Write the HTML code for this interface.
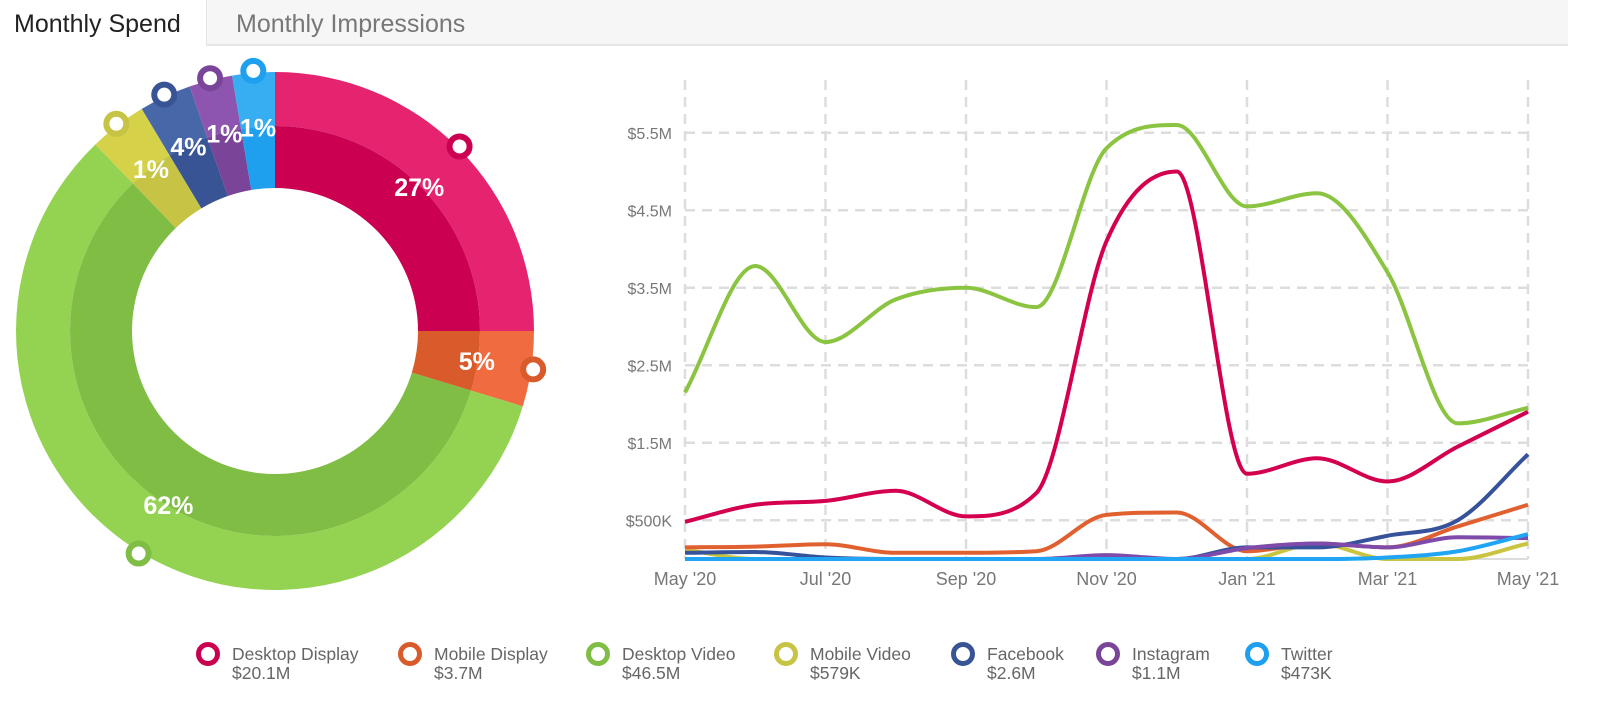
<!DOCTYPE html>
<html><head><meta charset="utf-8"><style>
html,body{margin:0;padding:0;background:#fff;width:1600px;height:716px;overflow:hidden;font-family:"Liberation Sans",sans-serif}
#tabs{position:absolute;left:0;top:0;width:1568px;height:48px}
.tab{position:absolute;top:0;height:48px;line-height:48px;font-size:25px}
#t1{left:0;width:206px;background:#fff;color:#222;padding-left:14px;box-sizing:border-box;white-space:nowrap}
#t2{left:206px;width:1362px;background:#f6f6f6;border-left:1px solid #e4e4e4;border-bottom:2px solid #e6e6e6;height:46px;color:#777;padding-left:29px;box-sizing:border-box;white-space:nowrap}
svg{position:absolute;left:0;top:0}
</style></head><body>
<div id="tabs">
<div class="tab" id="t1">Monthly Spend</div>
<div class="tab" id="t2">Monthly Impressions</div>
</div>
<svg id="chart" width="1600" height="716"></svg>
<script>
const seriesNames=["Desktop Display","Mobile Display","Desktop Video","Mobile Video","Facebook","Instagram","Twitter"];
const seriesTotals=["$20.1M","$3.7M","$46.5M","$579K","$2.6M","$1.1M","$473K"];
const donutShares=[25,4.7,58.1,3.6,3.25,2.7,2.65];
const donutLabels=["27%","5%","62%","1%","4%","1%","1%"];
const months=["May '20","Jun '20","Jul '20","Aug '20","Sep '20","Oct '20","Nov '20","Dec '20","Jan '21","Feb '21","Mar '21","Apr '21","May '21"];
const xTickLabels=["May '20","Jul '20","Sep '20","Nov '20","Jan '21","Mar '21","May '21"];
const yTicks=[0.5,1.5,2.5,3.5,4.5,5.5];
const yTickLabels=["$500K","$1.5M","$2.5M","$3.5M","$4.5M","$5.5M"];
const desktopDisplay=[0.48,0.7,0.75,0.88,0.55,0.85,4.1,5.0,1.1,1.3,1.0,1.45,1.9];
const mobileDisplay=[0.15,0.16,0.19,0.08,0.08,0.1,0.57,0.6,0.1,0.2,0.15,0.42,0.7];
const desktopVideo=[2.15,3.78,2.8,3.35,3.5,3.25,5.3,5.6,4.55,4.72,3.7,1.75,1.95];
const mobileVideo=[0.12,0,0,0,0,0,0,0,0,0.2,0,0,0.2];
const facebook=[0.08,0.09,0.02,0,0,0,0,0,0.15,0.15,0.3,0.5,1.35];
const instagram=[0,0,0,0,0,0,0.05,0,0.14,0.2,0.15,0.28,0.27];
const twitter=[0,0,0,0,0,0,0,0,0,0,0.02,0.1,0.32];
const seriesData=[desktopDisplay,mobileDisplay,desktopVideo,mobileVideo,facebook,instagram,twitter];

const lineColors=["#d4004f","#e0612f","#8ac440","#c9c540","#36529a","#7f4bab","#1fa5f3"];
const outerColors=["#e5236f","#f06c40","#94d352","#d5d149","#4767a8","#8e55b0","#37aef2"];
const innerColors=["#cc0050","#d95b2b","#80bd45","#c6c345","#385494","#7a4598","#1ea0ef"];
const NS="http://www.w3.org/2000/svg";
const svg=document.getElementById('chart');
function mk(t,a,p){const e=document.createElementNS(NS,t);for(const k in a)e.setAttribute(k,a[k]);(p||svg).appendChild(e);return e;}

// donut
const cx=275,cy=331,R=259,Rm=205,Ri=143;
function pt(r,a){const t=a*Math.PI/180;return [cx+r*Math.sin(t),cy-r*Math.cos(t)];}
function arc(r1,r2,a0,a1){const L=(a1-a0)>180?1:0;const p0=pt(r2,a0),p1=pt(r2,a1),p2=pt(r1,a1),p3=pt(r1,a0);
return `M${p0}A${r2},${r2} 0 ${L} 1 ${p1}L${p2}A${r1},${r1} 0 ${L} 0 ${p3}Z`;}
const tot=donutShares.reduce((a,b)=>a+b,0);
let acc=0;const mids=[];
donutShares.forEach((s,i)=>{const a0=acc/tot*360,a1=(acc+s)/tot*360;acc+=s;
 const g=mk('g',{});
 
 
 mk('path',{d:arc(Rm,R,a0,a1),fill:outerColors[i]},g);
 mk('path',{d:arc(Ri,Rm,a0,a1),fill:innerColors[i]},g);
 mids.push((a0+a1)/2);});
mids.forEach((m,i)=>{const [x,y]=pt(204,m);
 const t=mk('text',{x:x,y:y+9,'text-anchor':'middle','font-size':25,'font-weight':'bold',fill:'#fff'});
 t.textContent=donutLabels[i];
 
 
 const [mx,my]=pt(261,m);
 const c=mk('circle',{cx:mx,cy:my,r:10,fill:'#fff',stroke:innerColors[i],'stroke-width':6});
 
 });

// line chart
const x0=685,x1=1528,yTop=80,yBase=559,ppu=77.5;
const xs=i=>x0+(x1-x0)*i/(months.length-1);
const ys=v=>yBase-v*ppu;
const grid=mk('g',{});


yTicks.forEach((v,i)=>{mk('line',{x1:x0,x2:x1,y1:ys(v),y2:ys(v),stroke:'#ddd','stroke-width':2.5,'stroke-dasharray':'10,7'},grid);
 const t=mk('text',{x:672,y:ys(v)+6,'text-anchor':'end','font-size':16,fill:'#777'});t.textContent=yTickLabels[i];
 
 });
xTickLabels.forEach((l,k)=>{const i=months.indexOf(l);const x=xs(i);
 mk('line',{x1:x,x2:x,y1:yTop,y2:yBase,stroke:'#ddd','stroke-width':2.5,'stroke-dasharray':'10,7'},grid);
 const t=mk('text',{x:x,y:585,'text-anchor':'middle','font-size':18,fill:'#777'});t.textContent=l;
 
 });
mk('line',{x1:x0,x2:x1,y1:yBase,y2:yBase,stroke:'#ddd','stroke-width':2},grid);

function monotone(P){const n=P.length;const d=[],m=[];
 for(let i=0;i<n-1;i++)d.push((P[i+1][1]-P[i][1])/(P[i+1][0]-P[i][0]));
 m[0]=d[0];m[n-1]=d[n-2];
 for(let i=1;i<n-1;i++){m[i]=(d[i-1]*d[i]<=0)?0:(d[i-1]+d[i])/2;}
 for(let i=0;i<n-1;i++){if(d[i]===0){m[i]=0;m[i+1]=0;continue;}const a=m[i]/d[i],b=m[i+1]/d[i],s=a*a+b*b;if(s>9){const t=3/Math.sqrt(s);m[i]=t*a*d[i];m[i+1]=t*b*d[i];}}
 let s=`M${P[0][0]},${P[0][1]}`;
 for(let i=0;i<n-1;i++){const h=(P[i+1][0]-P[i][0])/3;
  s+=`C${P[i][0]+h},${P[i][1]+m[i]*h} ${P[i+1][0]-h},${P[i+1][1]-m[i+1]*h} ${P[i+1][0]},${P[i+1][1]}`;}
 return s;}
const order=[3,1,4,5,6,0,2];
order.forEach(k=>{const P=seriesData[k].map((v,i)=>[xs(i),ys(v)]);
 const p=mk('path',{d:monotone(P),fill:'none',stroke:lineColors[k],'stroke-width':4,'stroke-linejoin':'round'});
 
 });

// legend
const legX=[208,410,598,786,963,1108,1257];
seriesNames.forEach((n,i)=>{const g=mk('g',{});
 
 
 mk('circle',{cx:legX[i],cy:654,r:9.5,fill:'#fff',stroke:innerColors[i],'stroke-width':5},g);
 const t=mk('text',{x:legX[i]+24,y:660,'font-size':17.5,fill:'#666'},g);t.textContent=n;
 const v=mk('text',{x:legX[i]+24,y:679,'font-size':17.5,fill:'#666'},g);v.textContent=seriesTotals[i];});
</script>
</body></html>
